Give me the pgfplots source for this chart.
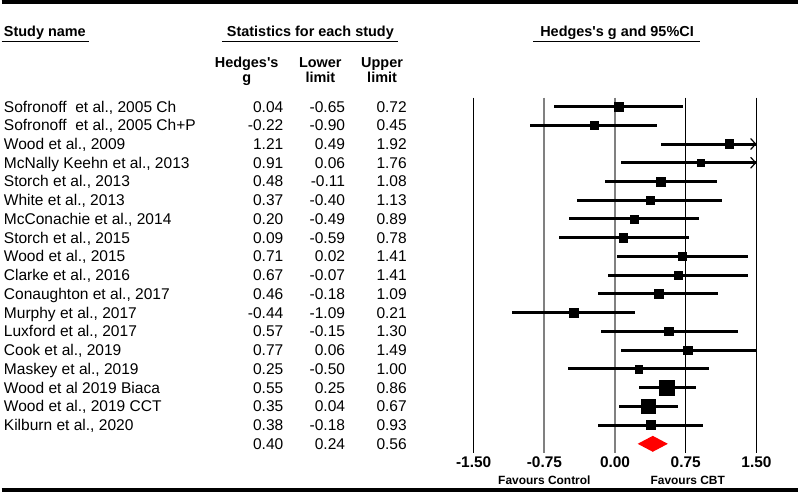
\documentclass[border=0pt]{standalone}
\usepackage{pgfplots}
\pgfplotsset{compat=1.18}
\usepackage{pgfplotstable}
\usepackage{fontspec}
\setmainfont{Liberation Sans}
\usetikzlibrary{arrows.meta}

\newcommand\rowfont{\fontsize{15.6}{18}\selectfont}
\newcommand\hdfont{\fontsize{14.5}{17}\selectfont\bfseries}
\newcommand\tkfont{\fontsize{15.5}{18}\selectfont\bfseries}
\newcommand\fvfont{\fontsize{12}{14}\selectfont\bfseries}

% row; study; Hedges's g; lower; upper; half side of square (weight)
\pgfplotstableread[col sep=semicolon]{
row;name;g;lo;hi;sz
1;Sofronoff~ et al., 2005 Ch;0.04;-0.65;0.72;4.3
2;Sofronoff~ et al., 2005 Ch+P;-0.22;-0.90;0.45;4.3
3;Wood et al., 2009;1.21;0.49;1.92;4.4
4;McNally Keehn et al., 2013;0.91;0.06;1.76;3.5
5;Storch et al., 2013;0.48;-0.11;1.08;4.5
6;White et al., 2013;0.37;-0.40;1.13;4.0
7;McConachie et al., 2014;0.20;-0.49;0.89;4.1
8;Storch et al., 2015;0.09;-0.59;0.78;4.1
9;Wood et al., 2015;0.71;0.02;1.41;4.1
10;Clarke et al., 2016;0.67;-0.07;1.41;4.0
11;Conaughton et al., 2017;0.46;-0.18;1.09;4.4
12;Murphy et al., 2017;-0.44;-1.09;0.21;4.3
13;Luxford et al., 2017;0.57;-0.15;1.30;4.3
14;Cook et al., 2019;0.77;0.06;1.49;4.3
15;Maskey et al., 2019;0.25;-0.50;1.00;3.9
16;Wood et al 2019 Biaca;0.55;0.25;0.86;7.8
17;Wood et al., 2019 CCT;0.35;0.04;0.67;7.0
18;Kilburn et al., 2020;0.38;-0.18;0.93;4.6
}\studies

\pgfplotstableread[col sep=semicolon]{
row;g;lo;hi
19;0.40;0.24;0.56
}\summary

\begin{document}
\begin{tikzpicture}
\path (0,0) rectangle (800pt,494pt);
% ---------- text table (pixel coordinates) ----------
\begin{axis}[at={(0,0)}, anchor=south west, scale only axis,
  width=800pt, height=494pt, xmin=0, xmax=800, ymin=0, ymax=494,
  y dir=reverse, hide axis, clip=false]
  % names
  \addplot[only marks, mark=none, nodes near coords, point meta=explicit symbolic,
    nodes near coords style={anchor=base west, inner sep=0pt, font=\rowfont}]
    table[x expr=2, y expr=112.5+(\thisrow{row}-1)*18.82, meta=name]{\studies};
  % Hedges's g
  \addplot[only marks, mark=none, nodes near coords, point meta=explicit symbolic,
    nodes near coords style={anchor=base east, inner sep=0pt, font=\rowfont}]
    table[x expr=283, y expr=112.5+(\thisrow{row}-1)*18.82, meta=g]{\studies};
  \addplot[only marks, mark=none, nodes near coords, point meta=explicit symbolic,
    nodes near coords style={anchor=base east, inner sep=0pt, font=\rowfont}]
    table[x expr=345, y expr=112.5+(\thisrow{row}-1)*18.82, meta=lo]{\studies};
  \addplot[only marks, mark=none, nodes near coords, point meta=explicit symbolic,
    nodes near coords style={anchor=base east, inner sep=0pt, font=\rowfont}]
    table[x expr=407, y expr=112.5+(\thisrow{row}-1)*18.82, meta=hi]{\studies};
  % summary numbers
  \addplot[only marks, mark=none, nodes near coords, point meta=explicit symbolic,
    nodes near coords style={anchor=base east, inner sep=0pt, font=\rowfont}]
    table[x expr=283, y expr=112.5+(\thisrow{row}-1)*18.82, meta=g]{\summary};
  \addplot[only marks, mark=none, nodes near coords, point meta=explicit symbolic,
    nodes near coords style={anchor=base east, inner sep=0pt, font=\rowfont}]
    table[x expr=345, y expr=112.5+(\thisrow{row}-1)*18.82, meta=lo]{\summary};
  \addplot[only marks, mark=none, nodes near coords, point meta=explicit symbolic,
    nodes near coords style={anchor=base east, inner sep=0pt, font=\rowfont}]
    table[x expr=407, y expr=112.5+(\thisrow{row}-1)*18.82, meta=hi]{\summary};

  % rules
  \draw[line width=3.5pt] (axis cs:0,2) -- (axis cs:800,2);
  \draw[line width=3.5pt] (axis cs:0,492.2) -- (axis cs:800,492.2);
  % headers
  \node[anchor=base west, inner sep=0pt, font=\hdfont] at (axis cs:2,37) {Study name};
  \draw[line width=1.3pt] (axis cs:0,41.5) -- (axis cs:88,41.5);
  \node[anchor=base, inner sep=0pt, font=\hdfont] at (axis cs:310,37) {Statistics for each study};
  \draw[line width=1.3pt] (axis cs:221,41.5) -- (axis cs:398,41.5);
  \node[anchor=base, inner sep=0pt, font=\hdfont] at (axis cs:618,37) {Hedges\textquotesingle s g and 95\%CI};
  \draw[line width=1.3pt] (axis cs:534,41.5) -- (axis cs:701,41.5);
  \node[anchor=base, inner sep=0pt, font=\hdfont] at (axis cs:246,67.5) {Hedges\textquotesingle s};
  \node[anchor=base, inner sep=0pt, font=\hdfont] at (axis cs:246,83) {g};
  \node[anchor=base, inner sep=0pt, font=\hdfont] at (axis cs:320,67.5) {Lower};
  \node[anchor=base, inner sep=0pt, font=\hdfont] at (axis cs:320,83) {limit};
  \node[anchor=base, inner sep=0pt, font=\hdfont] at (axis cs:382,67.5) {Upper};
  \node[anchor=base, inner sep=0pt, font=\hdfont] at (axis cs:382,83) {limit};
  % favours
  \node[anchor=base, inner sep=0pt, font=\fvfont] at (axis cs:545,487) {Favours Control};
  \node[anchor=base, inner sep=0pt, font=\fvfont] at (axis cs:689,487) {Favours CBT};
\end{axis}

% ---------- forest plot ----------
\begin{axis}[at={(474pt,39pt)}, anchor=south west, scale only axis,
  width=284pt, height=357pt,
  xmin=-1.5, xmax=1.5, ymin=0.5218, ymax=19.491, y dir=reverse,
  axis line style={draw=none}, major tick length=0pt, ytick=\empty,
  xtick={-1.5,0.75,1.5}, xticklabels={-1.50,0.75,1.50},
  extra x ticks={-0.75,0}, extra x tick labels={-0.75,0.00},
  xmajorgrids, grid style={black, line width=1.3pt},
  extra x tick style={grid style={draw=gray, line width=2pt}},
  xticklabel style={font=\tkfont, anchor=base, inner sep=0pt, yshift=-14.5pt},
  clip=false]
  \addplot[scatter, only marks, mark=square*,
    scatter/use mapped color={draw=black, fill=black},
    visualization depends on={\thisrow{sz} \as \sz},
    scatter/@pre marker code/.append style={/tikz/mark size=\sz},
    error bars/.cd, x dir=both, x explicit,
    error bar style={line width=3pt, black}, error mark=none]
    table[x=g, y=row,
      x error plus expr={min(\thisrow{hi},1.5)-\thisrow{g}},
      x error minus expr={\thisrow{g}-\thisrow{lo}}]{\studies};
  % arrows for intervals beyond 1.5
  \addplot[black, line width=1.2pt, -{Straight Barb[length=5pt, width=11pt]}]
    coordinates {(1.3,3) (1.5,3)};
  \addplot[black, line width=1.2pt, -{Straight Barb[length=5pt, width=11pt]}]
    coordinates {(1.3,4) (1.5,4)};
  % summary diamond
  \addplot[fill=red, draw=none]
    coordinates {(0.24,19) (0.40,18.575) (0.56,19) (0.40,19.425)} -- cycle;
\end{axis}
\end{tikzpicture}
\end{document}
